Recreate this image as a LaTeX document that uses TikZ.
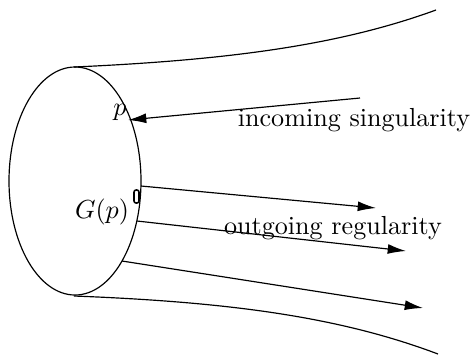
\documentclass[tikz,border=0pt]{standalone}
\usetikzlibrary{arrows.meta}
\begin{document}
\begin{tikzpicture}[x=0.383pt,y=-0.383pt,
  line/.style={line width=0.45pt},
  arr/.style={line width=0.45pt,-{Latex[length=7pt,width=3.8pt]}},
  lbl/.style={inner sep=0pt}]
\useasboundingbox (0,0) rectangle (475,356);
% tube
\draw[line] (75,181) ellipse [x radius=66, y radius=114];
\coordinate (tt) at (74,67);
\coordinate (te) at (436,10);
\coordinate (bt) at (74,296);
\coordinate (be) at (438,354);
\draw[line] (tt) .. controls (230,60) and (340,45) .. (te);
\draw[line] (bt) .. controls (230,302) and (340,317) .. (be);
% labels
\node[lbl] (p) at (120,112) {$p$};
\node[lbl] (G) at (102,212) {$G(p)$};
\node[lbl] (inc) at (354,120) {incoming singularity};
\node[lbl] (out) at (333,228) {outgoing regularity};
% small box
\draw[line,line width=0.6pt,rounded corners=0.8pt] (134,190) rectangle (139,203);
% arrows
\coordinate (a0s) at (360,98);
\coordinate (a0e) at (128,120);
\draw[arr] (a0s) -- (a0e);
\coordinate (a1s) at (141,186);
\coordinate (a1e) at (376,208);
\draw[arr] (a1s) -- (a1e);
\coordinate (a2s) at (137,221);
\coordinate (a2e) at (406,251);
\draw[arr] (a2s) -- (a2e);
\coordinate (a3s) at (122,261);
\coordinate (a3e) at (423,308);
\draw[arr] (a3s) -- (a3e);
\end{tikzpicture}
\end{document}
